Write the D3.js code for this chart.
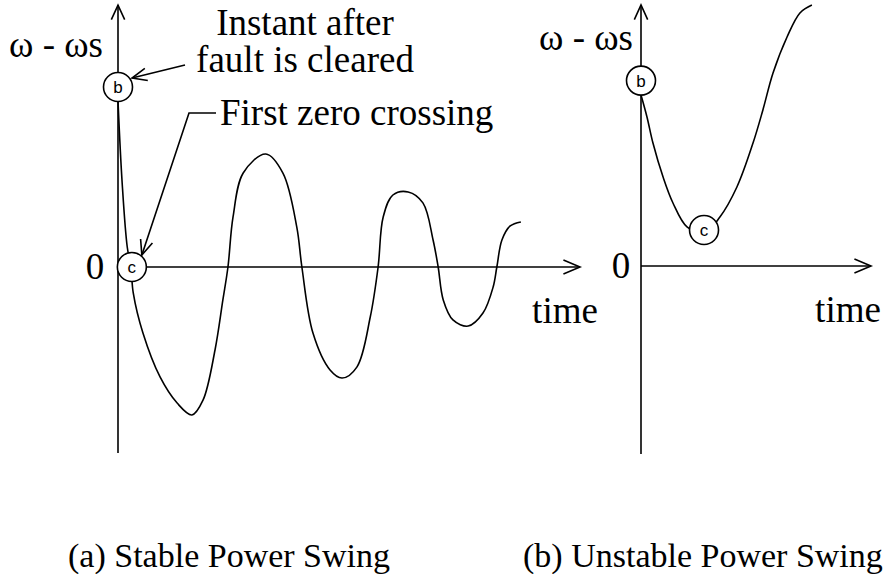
<!DOCTYPE html>
<html>
<head>
<meta charset="utf-8">
<script src="https://cdn.jsdelivr.net/npm/d3@7/dist/d3.min.js"></script>
<style>
  html, body { margin: 0; padding: 0; background: #fff; }
  svg { display: block; }
  text { font-family: "Liberation Serif", "Times New Roman", serif; fill: #000; }
  .mk { font-family: "Liberation Sans", Arial, sans-serif; }
</style>
</head>
<body>
<svg id="chart" width="886" height="574"></svg>
<script>
// Speed deviation after fault clearing, in relative units (time 0..100, deviation scaled so 100 = b level)
const stableTime = [0, 0.9, 2.0, 2.8, 3.3, 5.4, 9.1, 12.8, 16.0, 18.4, 21.0, 22.7, 23.8, 24.9, 27.1, 32.0, 35.7, 38.7, 39.8, 42.2, 45.9, 48.5, 51.7, 54.6, 56.3, 57.4, 59.5, 62.8, 66.0, 68.2, 69.3, 70.4, 72.5, 75.8, 79.0, 81.2, 82.0, 83.1, 84.9, 87.2];
const stableDev  = [92, 46.7, 11.1, 0, -14.4, -36.7, -61.1, -75.6, -82.2, -74.0, -46.1, -18.3, 0, 27.8, 52.2, 62.8, 52.2, 22.2, 0, -36.7, -57.2, -61.7, -55.6, -27.8, 0, 27.8, 40, 41.7, 35.6, 15, 0, -18.3, -29.4, -32.8, -25.6, -11.1, 0, 15, 22.8, 25];

const unstableTime = [0, 2.6, 5.2, 9.6, 13.9, 20.0, 27.4, 34.3, 41.7, 48.7, 53.0, 57.4, 63.5, 69.1, 74.3];
const unstableDev  = [95, 82.8, 68.3, 49.4, 35, 21.7, 18.3, 27.2, 43.9, 68.3, 86.7, 107.2, 127.2, 140.6, 145];

// Marked instants: b = fault cleared, c = first zero crossing / minimum
const stableMarks   = [{ id: "b", t: 0, v: 100 }, { id: "c", t: 3.0, v: 0 }];
const unstableMarks = [{ id: "b", t: 0, v: 103 }, { id: "c", t: 27.4, v: 20 }];

const yLabel = "\u03C9 - \u03C9s";
const xLabel = "time";
const zeroLabel = "0";
const captions = ["(a) Stable Power Swing", "(b) Unstable Power Swing"];
const annotations = [["Instant after", "fault is cleared"], ["First zero crossing"]];

const svg = d3.select("#chart");
const FS = 37;
const CAP_FS = 34;

function chevron(g, tip, angle, len, spread) {
  // angle: direction the arrow points (radians)
  const a1 = angle + Math.PI - spread, a2 = angle + Math.PI + spread;
  g.append("path")
    .attr("d", `M${tip[0] + len * Math.cos(a1)},${tip[1] + len * Math.sin(a1)}L${tip[0]},${tip[1]}L${tip[0] + len * Math.cos(a2)},${tip[1] + len * Math.sin(a2)}`)
    .attr("fill", "none").attr("stroke", "#000").attr("stroke-width", 1.6);
}

function panel(cfg) {
  const g = svg.append("g");
  const x = d3.scaleLinear().domain([0, 100]).range(cfg.xr);
  const y = d3.scaleLinear().domain([0, 100]).range(cfg.yr);

  // axes
  g.append("line").attr("x1", x(0)).attr("x2", x(0)).attr("y1", y(cfg.vMin)).attr("y2", y(cfg.vMax))
    .attr("stroke", "#000").attr("stroke-width", 1.6);
  chevron(g, [x(0), y(cfg.vMax)], -Math.PI / 2, 16, 0.43);
  g.append("line").attr("x1", x(0)).attr("x2", x(100)).attr("y1", y(0)).attr("y2", y(0))
    .attr("stroke", "#000").attr("stroke-width", 1.6);
  chevron(g, [x(100), y(0)], 0, 18, 0.4);

  // curve
  const line = d3.line().x((d, i) => x(cfg.t[i])).y(d => y(d)).curve(d3.curveCatmullRom.alpha(0.5));
  g.append("path").datum(cfg.v).attr("d", line)
    .attr("fill", "none").attr("stroke", "#000").attr("stroke-width", 1.6);

  // axis texts
  g.append("text").attr("x", cfg.yLabelX).attr("y", y(cfg.yLabelV)).attr("text-anchor", "end")
    .attr("font-size", FS).text(yLabel);
  g.append("text").attr("x", cfg.zeroX).attr("y", y(0) + cfg.zeroDy).attr("text-anchor", "middle")
    .attr("font-size", FS).text(zeroLabel);
  g.append("text").attr("x", cfg.timeX).attr("y", y(0) + 56).attr("text-anchor", "middle")
    .attr("font-size", FS).text(xLabel);

  // markers
  const m = g.selectAll("g.mark").data(cfg.marks).join("g").attr("class", "mark")
    .attr("transform", d => `translate(${x(d.t)},${y(d.v)})`);
  m.append("circle").attr("r", 14.5).attr("fill", "#fff").attr("stroke", "#000").attr("stroke-width", 1.6);
  m.append("text").attr("class", "mk").attr("text-anchor", "middle").attr("dy", "0.36em")
    .attr("font-size", 17).text(d => d.id);

  g.append("text").attr("x", cfg.capX).attr("y", 567).attr("font-size", CAP_FS).text(cfg.caption);
  return { g, x, y };
}

const left = panel({
  xr: [118, 580], yr: [267, 87], vMin: -103.3, vMax: 145.5,
  t: stableTime, v: stableDev, marks: stableMarks,
  yLabelX: 103, yLabelV: 116.7, zeroX: 95, zeroDy: 12, timeX: 565,
  capX: 68, caption: captions[0]
});
const right = panel({
  xr: [641, 871], yr: [266, 86], vMin: -104.4, vMax: 145,
  t: unstableTime, v: unstableDev, marks: unstableMarks,
  yLabelX: 633, yLabelV: 120, zeroX: 621, zeroDy: 12, timeX: 848,
  capX: 523, caption: captions[1]
});

// annotations on the stable swing
const ann = svg.append("g");
ann.append("text").attr("x", 305).attr("y", 35).attr("text-anchor", "middle").attr("font-size", FS).text(annotations[0][0]);
ann.append("text").attr("x", 305).attr("y", 72).attr("text-anchor", "middle").attr("font-size", FS).text(annotations[0][1]);
ann.append("text").attr("x", 220).attr("y", 125).attr("font-size", FS).text(annotations[1][0]);

const bx = left.x(0) + 14, by = left.y(100) - 9;
ann.append("line").attr("x1", 185).attr("y1", 65).attr("x2", bx).attr("y2", by)
  .attr("stroke", "#000").attr("stroke-width", 1.6);
chevron(ann, [bx, by], Math.atan2(by - 65, bx - 185), 16, 0.4);

const cx = left.x(3.0) + 10, cy = left.y(0) - 12;
ann.append("path").attr("d", `M216,113L189,113L${cx},${cy}`)
  .attr("fill", "none").attr("stroke", "#000").attr("stroke-width", 1.6);
chevron(ann, [cx, cy], Math.atan2(cy - 113, cx - 189), 16, 0.4);
</script>
</body>
</html>
